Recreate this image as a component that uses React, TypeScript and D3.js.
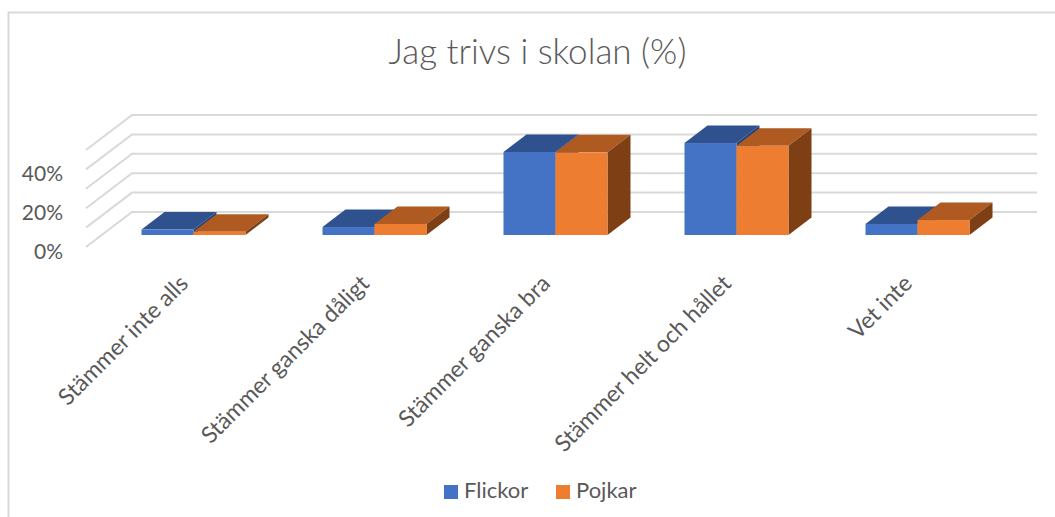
import * as d3 from "d3";

const categories = [
  "Stämmer inte alls",
  "Stämmer ganska dåligt",
  "Stämmer ganska bra",
  "Stämmer helt och hållet",
  "Vet inte",
];
const flickor = [2.8, 4.1, 42.8, 47.4, 5.7];
const pojkar = [1.7, 5.7, 42.6, 46, 7.7];
const gridTicks = [0, 10, 20, 30, 40, 50];
const labelTicks = [0, 20, 40];

const BLUE = { front: "#4472C4", top: "#2F528F", side: "#264478" };
const ORANGE = { front: "#ED7D31", top: "#AE5A21", side: "#7F3F14" };
const LABEL = "#595959";
const FONT = "Lato, Carlito, sans-serif";

const width = 1055;
const height = 517;

// floor of the bars and the front edge of the grid
const floorY = 235;
const gridFrontX = 86;
const gridFrontY = 247;
const gridDepth = { x: 46, y: -35 };
const barDepth = { x: 23, y: -17.5 };
const gridRight = 1037;

const x0 = d3.scaleBand().domain(categories).range([103, 1008]).padding(0);
const rise = d3.scaleLinear().domain([0, 50]).range([0, 97]);

function bar(cx: number, w: number, value: number, c: typeof BLUE, key: string) {
  const h = rise(value);
  const top = floorY - h;
  const dx = barDepth.x;
  const dy = barDepth.y;
  const poly = (pts: [number, number][]) => pts.map((p) => p.join(",")).join(" ");
  return (
    <g key={key}>
      <polygon
        points={poly([[cx, top], [cx + w, top], [cx + w + dx, top + dy], [cx + dx, top + dy]])}
        fill={c.top}
      />
      <polygon
        points={poly([[cx + w, top], [cx + w + dx, top + dy], [cx + w + dx, floorY + dy], [cx + w, floorY]])}
        fill={c.side}
      />
      <rect x={cx} y={top} width={w} height={h} fill={c.front} />
    </g>
  );
}

export default function App() {
  const barW = 52;
  return (
    <svg
      width={width}
      height={height}
      style={{ position: "absolute", left: 0, top: 0, background: "#fff" }}
      fontFamily={FONT}
    >
      <path d={`M8.5 ${height}V12.5H1055`} fill="none" stroke="#d9d9d9" strokeWidth={2} />

      <text x={537.5} y={64} textAnchor="middle" fontSize={35} fontWeight={300} fill={LABEL}>
        Jag trivs i skolan (%)
      </text>

      {gridTicks.map((t) => {
        const y = gridFrontY - rise(t);
        return (
          <polyline
            key={t}
            points={`${gridFrontX},${y} ${gridFrontX + gridDepth.x},${y + gridDepth.y} ${gridRight},${y + gridDepth.y}`}
            fill="none"
            stroke="#d9d9d9"
            strokeWidth={2}
          />
        );
      })}

      {labelTicks.map((t) => (
        <text key={t} x={63} y={gridFrontY - rise(t) + 12} textAnchor="end" fontSize={21} fill={LABEL}>
          {t}%
        </text>
      ))}

      {categories.map((c, i) => {
        const left = x0(c)! + x0.bandwidth() / 2 - barW;
        return (
          <g key={c}>
            {bar(left, barW, flickor[i], BLUE, "f")}
            {bar(left + barW, barW, pojkar[i], ORANGE, "p")}
          </g>
        );
      })}

      {categories.map((c) => {
        const cx = x0(c)! + x0.bandwidth() / 2;
        return (
          <text
            key={c}
            transform={`translate(${cx - 4},${285}) rotate(-45)`}
            textAnchor="end"
            fontSize={23}
            fill={LABEL}
          >
            {c}
          </text>
        );
      })}

      <rect x={444} y={485} width={14} height={14} fill={BLUE.front} />
      <text x={464} y={498} fontSize={22} fill={LABEL}>Flickor</text>
      <rect x={556} y={485} width={14} height={14} fill={ORANGE.front} />
      <text x={576} y={498} fontSize={22} fill={LABEL}>Pojkar</text>
    </svg>
  );
}
